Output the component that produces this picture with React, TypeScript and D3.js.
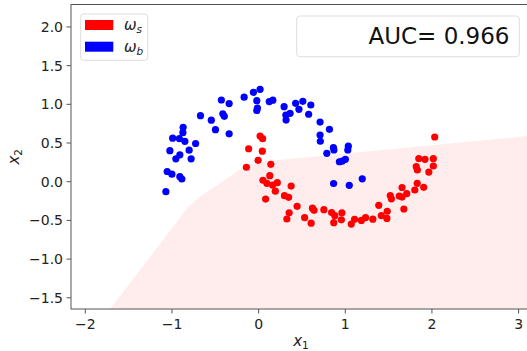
import React from 'react';
import * as d3 from 'd3';

// signal class (omega_s)
const signalPoints: [number, number][] = [
  [0.017, 0.59], [0.046, 0.556], [-0.115, 0.426], [0.043, 0.394], [-0.006, 0.276],
  [0.141, 0.224], [-0.141, 0.187], [0.129, 0.078], [0.05, 0.019], [0.095, -0.021],
  [0.161, -0.043], [0.216, -0.013], [0.193, -0.123], [0.081, -0.224], [0.375, -0.056],
  [0.298, -0.181], [0.346, -0.202], [0.444, -0.318], [0.352, -0.402], [0.326, -0.482],
  [0.531, -0.465], [0.606, -0.536], [0.621, -0.342], [0.64, -0.37], [0.753, -0.362],
  [0.842, -0.398], [0.879, -0.439], [0.961, -0.401], [0.867, -0.53], [0.955, -0.492],
  [1.069, -0.548], [1.107, -0.486], [1.186, -0.501], [1.234, -0.465], [1.318, -0.484],
  [1.386, -0.305], [1.416, -0.438], [1.48, -0.475], [1.484, -0.382], [1.519, -0.178],
  [1.532, -0.221], [1.623, -0.185], [1.655, -0.075], [1.655, -0.198], [1.709, -0.155],
  [1.676, -0.353], [1.802, -0.107], [1.83, -0.021], [1.905, -0.072], [1.819, 0.194],
  [1.832, 0.151], [1.848, 0.3], [1.92, 0.289], [2.016, 0.297], [2.016, 0.203],
  [1.964, 0.125], [2.032, 0.578],
];

// background class (omega_b)
const backgroundPoints: [number, number][] = [
  [-1.07, -0.129], [-1.055, 0.132], [-1.001, 0.097], [-0.909, 0.065], [-0.886, 0.035],
  [-1.024, 0.401], [-0.955, 0.296], [-0.909, 0.348], [-0.779, 0.296], [-0.802, 0.407],
  [-0.727, 0.494], [-0.992, 0.562], [-0.915, 0.558], [-0.874, 0.633], [-0.851, 0.522],
  [-0.871, 0.704], [-0.671, 0.853], [-0.546, 0.795], [-0.498, 0.672], [-0.413, 0.877],
  [-0.396, 0.845], [-0.34, 0.619], [-0.43, 1.056], [-0.34, 1.01], [-0.167, 1.092],
  [-0.06, 1.155], [0.017, 1.194], [-0.021, 1.047], [-0.014, 0.952], [-0.021, 0.92],
  [0.123, 1.036], [0.164, 1.053], [0.294, 0.969], [0.314, 0.862], [0.317, 0.797],
  [0.363, 0.884], [0.427, 1.013], [0.465, 0.935], [0.51, 1.039], [0.602, 0.991],
  [0.577, 0.872], [0.709, 0.771], [0.817, 0.677], [0.709, 0.603], [0.712, 0.523],
  [0.787, 0.367], [0.863, 0.442], [0.869, 0.41], [1.035, 0.459], [1.029, 0.41],
  [0.932, 0.258], [0.965, 0.267], [1.001, 0.289], [0.865, -0.023], [1.046, -0.047],
  [1.196, 0.037],
];

// outline of the signal-classified region
const regionBoundary: [number, number][] = [
  [-1.713, -1.645], [-0.81, -0.32], [-0.675, -0.19], [-0.136, 0.216],
  [0.017, 0.258], [3.143, 0.595], [3.143, -1.645],
];

const xTicks = [-2, -1, 0, 1, 2, 3];
const yTicks = [-1.5, -1.0, -0.5, 0.0, 0.5, 1.0, 1.5, 2.0];
const aucLabel = 'AUC= 0.966';

const W = 527;
const H = 351;
const left = 71;
const right = 531;
const top = 4.5;
const bottom = 309;
const font = 'DejaVu Sans, sans-serif';

const fmt = (v: number, digits: number) => v.toFixed(digits).replace('-', '\u2212');

export default function App() {
  const x = d3.scaleLinear().domain([-2.165, 3.143]).range([left, right]);
  const y = d3.scaleLinear().domain([-1.645, 2.29]).range([bottom, top]);

  const area = d3.line<[number, number]>()
    .x(d => x(d[0]))
    .y(d => y(d[1]));

  return (
    <svg width={W} height={H} style={{ position: 'absolute', left: 0, top: 0, background: '#fff' }} fontFamily={font}>
      <defs>
        <clipPath id="plot">
          <rect x={left} y={top} width={right - left} height={bottom - top} />
        </clipPath>
      </defs>

      <g clipPath="url(#plot)">
        <path d={(area(regionBoundary) || '') + 'Z'} fill="#ff0000" fillOpacity={0.07} />
        {signalPoints.map((d, i) => (
          <circle key={'s' + i} cx={x(d[0])} cy={y(d[1])} r={3.6} fill="#ff0000" />
        ))}
        {backgroundPoints.map((d, i) => (
          <circle key={'b' + i} cx={x(d[0])} cy={y(d[1])} r={3.6} fill="#0000ff" />
        ))}
      </g>

      {/* spines */}
      <rect x={left} y={top} width={right - left} height={bottom - top} fill="none" stroke="#555" strokeWidth={1} />

      {/* x axis */}
      {xTicks.map(t => (
        <g key={'x' + t} transform={`translate(${x(t)},${bottom})`}>
          <line y2={4.5} stroke="#555" />
          <text y={20} textAnchor="middle" fontSize={14} fill="#222">{fmt(t, 0)}</text>
        </g>
      ))}
      {/* y axis */}
      {yTicks.map(t => (
        <g key={'y' + t} transform={`translate(${left},${y(t)})`}>
          <line x2={-4.5} stroke="#555" />
          <text x={-8} dy="0.35em" textAnchor="end" fontSize={14} fill="#222">{fmt(t, 1)}</text>
        </g>
      ))}

      <text x={(left + right) / 2} y={346} textAnchor="middle" fontSize={15} fill="#222">
        <tspan fontStyle="italic">x</tspan>
        <tspan fontSize={10.5} dy={3}>1</tspan>
      </text>
      <text transform={`translate(19,${(top + bottom) / 2}) rotate(-90)`} textAnchor="middle" fontSize={15} fill="#222">
        <tspan fontStyle="italic">x</tspan>
        <tspan fontSize={10.5} dy={3}>2</tspan>
      </text>

      {/* legend */}
      <rect x={80.7} y={14} width={67} height={46.3} rx={3} fill="#fff" fillOpacity={0.8} stroke="#ddd" />
      <rect x={85} y={20} width={28.3} height={10} fill="#ff0000" />
      <rect x={85} y={41.7} width={28.3} height={10} fill="#0000ff" />
      <text x={124} y={30} fontSize={15} fill="#222" fontStyle="italic">
        ω<tspan fontSize={10.5} dy={3}>s</tspan>
      </text>
      <text x={124} y={51.5} fontSize={15} fill="#222" fontStyle="italic">
        ω<tspan fontSize={10.5} dy={3}>b</tspan>
      </text>

      {/* AUC box */}
      <rect x={296.7} y={16} width={222.6} height={40.7} rx={3} fill="#fff" fillOpacity={0.8} stroke="#ddd" />
      <text x={509.5} y={44} textAnchor="end" fontSize={23} fill="#111">{aucLabel}</text>
    </svg>
  );
}
